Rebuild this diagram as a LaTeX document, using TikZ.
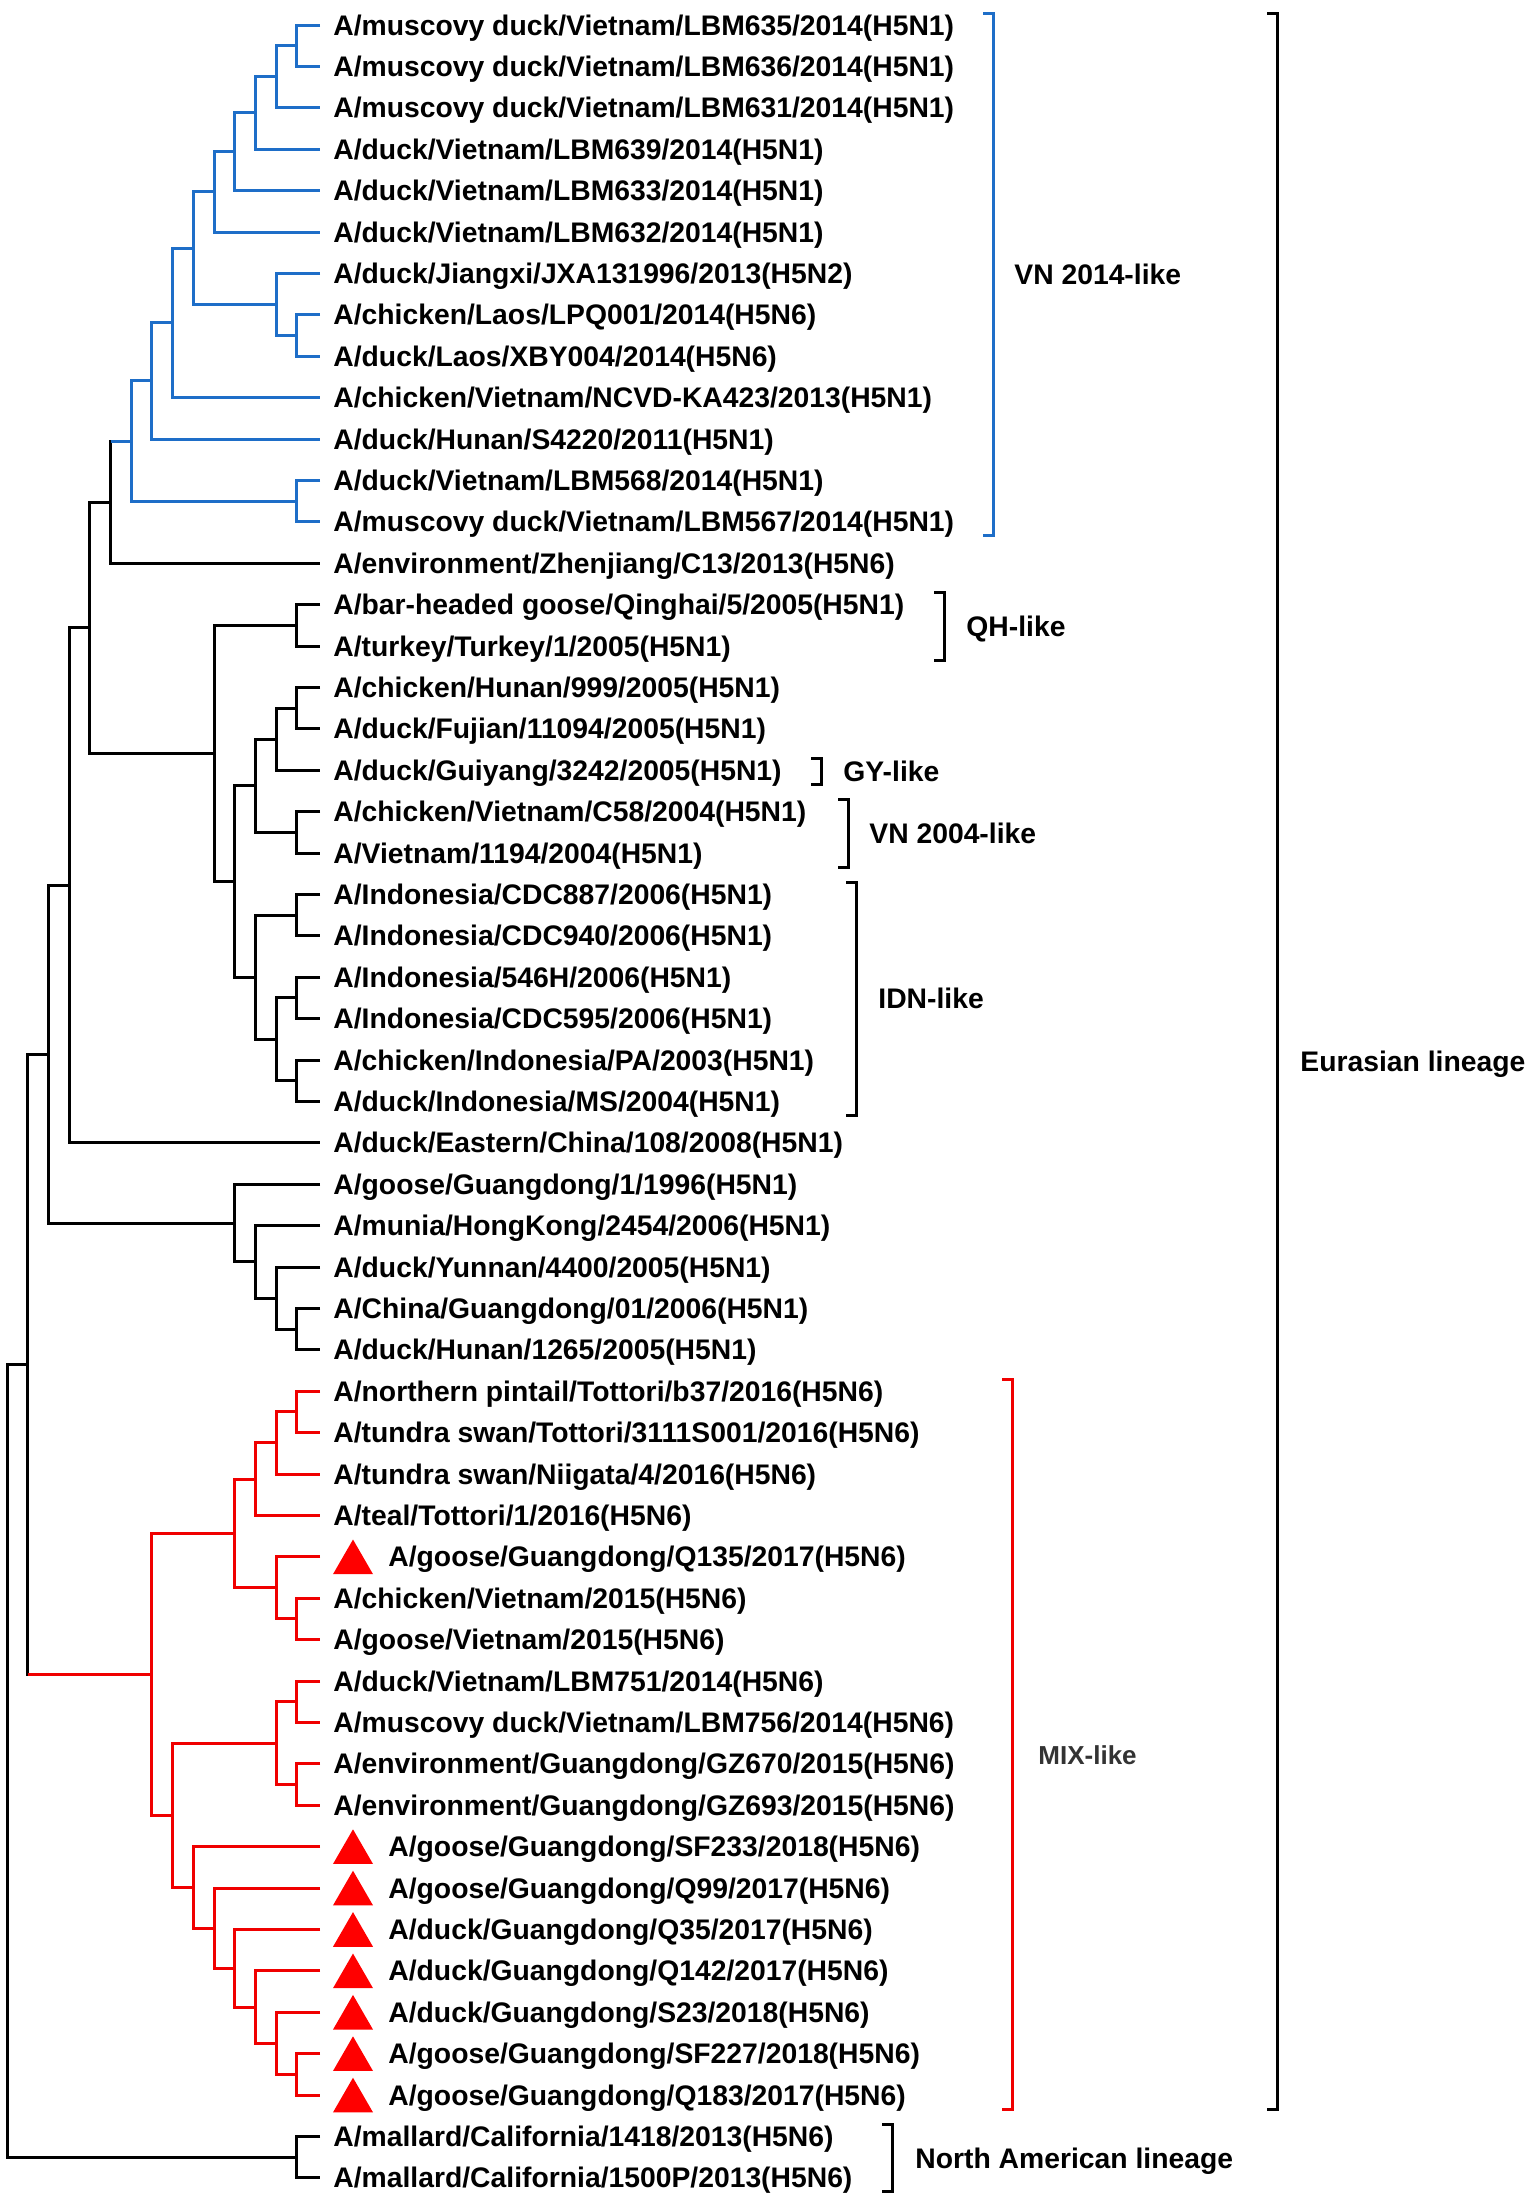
\documentclass[tikz,border=0pt]{standalone}
\usepackage{fontspec}
\setmainfont{Liberation Sans}
\usetikzlibrary{
  calc,
  positioning,
  shapes.geometric
}
\definecolor{cladeblue}{RGB}{30,110,200}
\definecolor{cladered}{RGB}{240,0,0}
\tikzset{
%
  % For the branches of the tree.
  branch/.style={
    line width=1.5pt},
%
  % For the brackets round a group.
  bracket/.style={
    line width=1.5pt},
%
  % For the names of the strains.
  leaf/.style={
    inner sep=0pt,
    font=\bfseries\fontsize{14.15}{16}\selectfont,
    text height=10pt,
    text depth=0pt},
%
  % For the names of the groups.
  group/.style={
    leaf},
%
  % For the marks of the new strains.
  hit/.style={
    regular polygon,
    regular polygon sides=3,
    fill=red,
    inner sep=0pt,
    minimum size=23.1pt}
}
% A strain: index, name.
\newcommand{\leaf}[2]{%
  \coordinate (t#1) at (320,{25+(#1-1)*41.4});
  \node[leaf, right=of t#1] (l#1) {#2};}
% A strain with a mark: index, name.
\newcommand{\hitleaf}[2]{%
  \coordinate (t#1) at (320,{25+(#1-1)*41.4});
  \node[hit] (h#1) at ($(t#1)+(33,5.8)$) {};
  \node[leaf, right=34pt of t#1] (l#1) {#2};}
% A clade: style, name, level, upper child, lower child.
\newcommand{\clade}[5][]{%
  \coordinate (#2 m) at ($(#4)!0.5!(#5)$);
  \coordinate (#2) at (lv#3 |- #2 m);
  \draw[branch,#1] (#4) -| (#2) |- (#5);}
% A bracket: style, name, x, first strain, last strain.
\newcommand{\clamp}[5][]{%
  \coordinate (#2 top) at (#3,{13+(#4-1)*41.4});
  \coordinate (#2 bot) at (#3,{39+(#5-1)*41.4});
  \coordinate (#2) at ($(#2 top)!0.5!(#2 bot)$);
  \draw[bracket,#1] ([xshift=-5pt]#2 top) -- (#2 top)
    -- (#2 bot) -- ([xshift=-5pt]#2 bot);}

\begin{document}
\begin{tikzpicture}[x=0.5pt, y=-0.5pt, node distance=6.5pt]
  \useasboundingbox (0,0) rectangle (1535,2202);
  \foreach \k in {0,...,14}
    \coordinate (lv\k) at ({7+20.7*\k},0);

  % strains
  \leaf{1}{A/muscovy duck/Vietnam/LBM635/2014(H5N1)}
  \leaf{2}{A/muscovy duck/Vietnam/LBM636/2014(H5N1)}
  \leaf{3}{A/muscovy duck/Vietnam/LBM631/2014(H5N1)}
  \leaf{4}{A/duck/Vietnam/LBM639/2014(H5N1)}
  \leaf{5}{A/duck/Vietnam/LBM633/2014(H5N1)}
  \leaf{6}{A/duck/Vietnam/LBM632/2014(H5N1)}
  \leaf{7}{A/duck/Jiangxi/JXA131996/2013(H5N2)}
  \leaf{8}{A/chicken/Laos/LPQ001/2014(H5N6)}
  \leaf{9}{A/duck/Laos/XBY004/2014(H5N6)}
  \leaf{10}{A/chicken/Vietnam/NCVD-KA423/2013(H5N1)}
  \leaf{11}{A/duck/Hunan/S4220/2011(H5N1)}
  \leaf{12}{A/duck/Vietnam/LBM568/2014(H5N1)}
  \leaf{13}{A/muscovy duck/Vietnam/LBM567/2014(H5N1)}
  \leaf{14}{A/environment/Zhenjiang/C13/2013(H5N6)}
  \leaf{15}{A/bar-headed goose/Qinghai/5/2005(H5N1)}
  \leaf{16}{A/turkey/Turkey/1/2005(H5N1)}
  \leaf{17}{A/chicken/Hunan/999/2005(H5N1)}
  \leaf{18}{A/duck/Fujian/11094/2005(H5N1)}
  \leaf{19}{A/duck/Guiyang/3242/2005(H5N1)}
  \leaf{20}{A/chicken/Vietnam/C58/2004(H5N1)}
  \leaf{21}{A/Vietnam/1194/2004(H5N1)}
  \leaf{22}{A/Indonesia/CDC887/2006(H5N1)}
  \leaf{23}{A/Indonesia/CDC940/2006(H5N1)}
  \leaf{24}{A/Indonesia/546H/2006(H5N1)}
  \leaf{25}{A/Indonesia/CDC595/2006(H5N1)}
  \leaf{26}{A/chicken/Indonesia/PA/2003(H5N1)}
  \leaf{27}{A/duck/Indonesia/MS/2004(H5N1)}
  \leaf{28}{A/duck/Eastern/China/108/2008(H5N1)}
  \leaf{29}{A/goose/Guangdong/1/1996(H5N1)}
  \leaf{30}{A/munia/HongKong/2454/2006(H5N1)}
  \leaf{31}{A/duck/Yunnan/4400/2005(H5N1)}
  \leaf{32}{A/China/Guangdong/01/2006(H5N1)}
  \leaf{33}{A/duck/Hunan/1265/2005(H5N1)}
  \leaf{34}{A/northern pintail/Tottori/b37/2016(H5N6)}
  \leaf{35}{A/tundra swan/Tottori/3111S001/2016(H5N6)}
  \leaf{36}{A/tundra swan/Niigata/4/2016(H5N6)}
  \leaf{37}{A/teal/Tottori/1/2016(H5N6)}
  \hitleaf{38}{A/goose/Guangdong/Q135/2017(H5N6)}
  \leaf{39}{A/chicken/Vietnam/2015(H5N6)}
  \leaf{40}{A/goose/Vietnam/2015(H5N6)}
  \leaf{41}{A/duck/Vietnam/LBM751/2014(H5N6)}
  \leaf{42}{A/muscovy duck/Vietnam/LBM756/2014(H5N6)}
  \leaf{43}{A/environment/Guangdong/GZ670/2015(H5N6)}
  \leaf{44}{A/environment/Guangdong/GZ693/2015(H5N6)}
  \hitleaf{45}{A/goose/Guangdong/SF233/2018(H5N6)}
  \hitleaf{46}{A/goose/Guangdong/Q99/2017(H5N6)}
  \hitleaf{47}{A/duck/Guangdong/Q35/2017(H5N6)}
  \hitleaf{48}{A/duck/Guangdong/Q142/2017(H5N6)}
  \hitleaf{49}{A/duck/Guangdong/S23/2018(H5N6)}
  \hitleaf{50}{A/goose/Guangdong/SF227/2018(H5N6)}
  \hitleaf{51}{A/goose/Guangdong/Q183/2017(H5N6)}
  \leaf{52}{A/mallard/California/1418/2013(H5N6)}
  \leaf{53}{A/mallard/California/1500P/2013(H5N6)}

  % VN 2014-like clade
  \begin{scope}[cladeblue]
    \clade{c1-2}{14}{t1}{t2}
    \clade{c1-3}{13}{c1-2}{t3}
    \clade{c1-4}{12}{c1-3}{t4}
    \clade{c1-5}{11}{c1-4}{t5}
    \clade{c1-6}{10}{c1-5}{t6}
    \clade{c8-9}{14}{t8}{t9}
    \clade{c7-9}{13}{t7}{c8-9}
    \clade{c1-9}{9}{c1-6}{c7-9}
    \clade{c1-10}{8}{c1-9}{t10}
    \clade{c1-11}{7}{c1-10}{t11}
    \clade{c12-13}{14}{t12}{t13}
    \clade{c1-13}{6}{c1-11}{c12-13}
  \end{scope}

  % older Eurasian clades
  \clade{c1-14}{5}{c1-13}{t14}
  \draw[branch, cladeblue] (c1-14 |- c1-13) -- (c1-13);
  \clade{c15-16}{14}{t15}{t16}
  \clade{c17-18}{14}{t17}{t18}
  \clade{c17-19}{13}{c17-18}{t19}
  \clade{c20-21}{14}{t20}{t21}
  \clade{c17-21}{12}{c17-19}{c20-21}
  \clade{c22-23}{14}{t22}{t23}
  \clade{c24-25}{14}{t24}{t25}
  \clade{c26-27}{14}{t26}{t27}
  \clade{c24-27}{13}{c24-25}{c26-27}
  \clade{c22-27}{12}{c22-23}{c24-27}
  \clade{c17-27}{11}{c17-21}{c22-27}
  \clade{c15-27}{10}{c15-16}{c17-27}
  \clade{c1-27}{4}{c1-14}{c15-27}
  \clade{c1-28}{3}{c1-27}{t28}
  \clade{c32-33}{14}{t32}{t33}
  \clade{c31-33}{13}{t31}{c32-33}
  \clade{c30-33}{12}{t30}{c31-33}
  \clade{c29-33}{11}{t29}{c30-33}
  \clade{c1-33}{2}{c1-28}{c29-33}

  % MIX-like clade
  \begin{scope}[cladered]
    \clade{c34-35}{14}{t34}{t35}
    \clade{c34-36}{13}{c34-35}{t36}
    \clade{c34-37}{12}{c34-36}{t37}
    \clade{c39-40}{14}{t39}{t40}
    \clade{c38-40}{13}{t38}{c39-40}
    \clade{c34-40}{11}{c34-37}{c38-40}
    \clade{c41-42}{14}{t41}{t42}
    \clade{c43-44}{14}{t43}{t44}
    \clade{c41-44}{13}{c41-42}{c43-44}
    \clade{c50-51}{14}{t50}{t51}
    \clade{c49-51}{13}{t49}{c50-51}
    \clade{c48-51}{12}{t48}{c49-51}
    \clade{c47-51}{11}{t47}{c48-51}
    \clade{c46-51}{10}{t46}{c47-51}
    \clade{c45-51}{9}{t45}{c46-51}
    \clade{c41-51}{8}{c41-44}{c45-51}
    \clade{c34-51}{7}{c34-40}{c41-51}
  \end{scope}

  % root
  \clade{c1-51}{1}{c1-33}{c34-51}
  \draw[branch, cladered] (c1-51 |- c34-51) -- (c34-51);
  \clade{c52-53}{14}{t52}{t53}
  \clade{root}{0}{c1-51}{c52-53}

  % groups
  \clamp[cladeblue]{vn14}{993}{1}{13}
  \node[group, right=10.5pt of vn14] (vn14 name) {VN 2014-like};
  \clamp{qh}{944}{15}{16}
  \node[group, right=11pt of qh] (qh name) {QH-like};
  \clamp{gy}{821}{19}{19}
  \node[group, right=11pt of gy] (gy name) {GY-like};
  \clamp{vn04}{848}{20}{21}
  \node[group, right=10.5pt of vn04] (vn04 name) {VN 2004-like};
  \clamp{idn}{856}{22}{27}
  \node[group, right=11pt of idn] (idn name) {IDN-like};
  \clamp[cladered]{mix}{1012}{34}{51}
  \node[group, right=13pt of mix, yshift=-5pt, text=black!80,
        font=\bfseries\fontsize{13}{15}\selectfont] (mix name) {MIX-like};
  \clamp{eur}{1277}{1}{51}
  \node[group, right=11.5pt of eur] (eur name) {Eurasian lineage};
  \clamp{na}{892}{52}{53}
  \node[group, right=11.5pt of na] (na name) {North American lineage};
\end{tikzpicture}
\end{document}
